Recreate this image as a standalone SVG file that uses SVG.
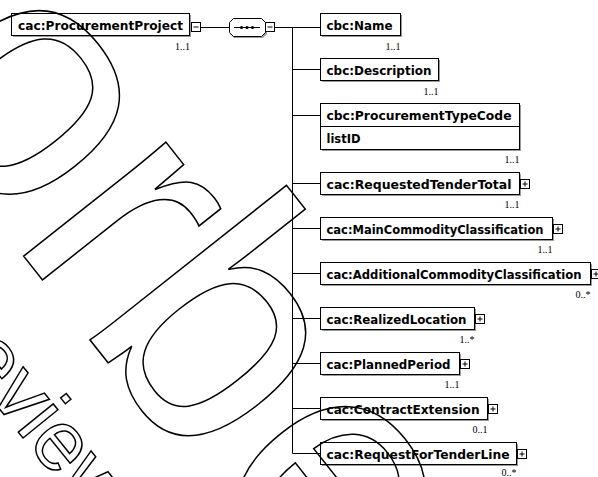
<svg xmlns="http://www.w3.org/2000/svg" width="598" height="477" viewBox="0 0 598 477">
<style>
.box{fill:#fff;stroke:#000;stroke-width:1}
.sh{fill:#9a9a9a}
.lbl{font-family:"DejaVu Sans",Verdana,sans-serif;font-size:12px;font-weight:bold;fill:#000}
.mult{font-family:"Liberation Serif","Times New Roman",serif;font-size:10px;fill:#000;text-anchor:end}
.ln{stroke:#000;stroke-width:1;fill:none}
.tog{fill:#fff;stroke:#000;stroke-width:1}
.wm{font-family:"Liberation Sans",Arial,sans-serif;fill:none;stroke:#000;stroke-width:1.5}
</style>
<defs>
<g id="plus"><rect class="tog" x="0.5" y="0.5" width="9" height="9"/><path class="ln" d="M2.5,5H7.5M5,2.5V7.5"/></g>
<g id="minus"><rect class="tog" x="0.5" y="0.5" width="9" height="9"/><path class="ln" d="M2.5,5H7.5"/></g>
</defs>

<g id="connectors">
<path class="ln" d="M200.5,27.5H229.5M275,27.5H292.5M292.5,27.5V453.5"/>
<path class="ln" d="M292.5,27.5H320.5M292.5,69.5H320.5M292.5,115.5H320.5M292.5,183.5H320.5M292.5,228.5H320.5M292.5,273.5H320.5M292.5,318.5H320.5M292.5,363.5H320.5M292.5,408.5H320.5M292.5,453.5H320.5"/>
</g>

<g id="root">
<rect class="sh" x="13" y="15" width="178" height="22"/>
<rect class="box" x="11.5" y="13.5" width="178" height="22"/>
<text class="lbl" x="18" y="30" textLength="165" lengthAdjust="spacingAndGlyphs">cac:ProcurementProject</text>
<use href="#minus" x="191" y="22"/>
<text class="mult" x="190" y="50">1..1</text>
</g>

<g id="sequence">
<path d="M234,20 H263 L267,24 V34 L263,38 H234 L230,34 V24 Z" fill="#9a9a9a"/>
<path class="box" d="M233.5,18.5 H261.5 L265.5,22.5 V32.5 L261.5,36.5 H233.5 L229.5,32.5 V22.5 Z"/>
<path class="ln" d="M234,27.5H260"/>
<circle cx="241.5" cy="27.5" r="1.6"/>
<circle cx="247" cy="27.5" r="1.6"/>
<circle cx="252.5" cy="27.5" r="1.6"/>
<use href="#minus" x="265" y="22"/>
</g>

<g id="name">
<rect class="sh" x="322" y="15" width="80" height="22"/>
<rect class="box" x="320.5" y="13.5" width="80" height="22"/>
<text class="lbl" x="326.5" y="30" textLength="66" lengthAdjust="spacingAndGlyphs">cbc:Name</text>
<text class="mult" x="400.5" y="49.5">1..1</text>
</g>

<g id="description">
<rect class="sh" x="322" y="60" width="118" height="22"/>
<rect class="box" x="320.5" y="58.5" width="118" height="22"/>
<text class="lbl" x="326.5" y="75" textLength="105" lengthAdjust="spacingAndGlyphs">cbc:Description</text>
<text class="mult" x="438.5" y="94.5">1..1</text>
</g>

<g id="procurementTypeCode">
<rect class="sh" x="322" y="105" width="199" height="46"/>
<rect class="box" x="320.5" y="103.5" width="199" height="46"/>
<path class="ln" d="M320.5,126.5H519.5"/>
<text class="lbl" x="326.5" y="120" textLength="185" lengthAdjust="spacingAndGlyphs">cbc:ProcurementTypeCode</text>
<text class="lbl" x="326.5" y="142.5" textLength="34" lengthAdjust="spacingAndGlyphs">listID</text>
<text class="mult" x="519.5" y="163">1..1</text>
</g>

<g id="requestedTenderTotal">
<rect class="sh" x="322" y="174" width="199" height="22"/>
<rect class="box" x="320.5" y="172.5" width="199" height="22"/>
<text class="lbl" x="326.5" y="189" textLength="185" lengthAdjust="spacingAndGlyphs">cac:RequestedTenderTotal</text>
<use href="#plus" x="520" y="179"/>
<text class="mult" x="519.5" y="208">1..1</text>
</g>

<g id="mainCommodityClassification">
<rect class="sh" x="322" y="219" width="232" height="22"/>
<rect class="box" x="320.5" y="217.5" width="232" height="22"/>
<text class="lbl" x="326.5" y="234" textLength="217" lengthAdjust="spacingAndGlyphs">cac:MainCommodityClassification</text>
<use href="#plus" x="553" y="224"/>
<text class="mult" x="552.5" y="253">1..1</text>
</g>

<g id="additionalCommodityClassification">
<rect class="sh" x="322" y="264" width="270" height="22"/>
<rect class="box" x="320.5" y="262.5" width="270" height="22"/>
<text class="lbl" x="326.5" y="279" textLength="255" lengthAdjust="spacingAndGlyphs">cac:AdditionalCommodityClassification</text>
<use href="#plus" x="591" y="269"/>
<text class="mult" x="590.5" y="298">0..*</text>
</g>

<g id="realizedLocation">
<rect class="sh" x="322" y="309" width="154" height="22"/>
<rect class="box" x="320.5" y="307.5" width="154" height="22"/>
<text class="lbl" x="326.5" y="324" textLength="140" lengthAdjust="spacingAndGlyphs">cac:RealizedLocation</text>
<use href="#plus" x="475" y="314"/>
<text class="mult" x="474.5" y="343">1..*</text>
</g>

<g id="plannedPeriod">
<rect class="sh" x="322" y="354" width="139" height="22"/>
<rect class="box" x="320.5" y="352.5" width="139" height="22"/>
<text class="lbl" x="326.5" y="369" textLength="124" lengthAdjust="spacingAndGlyphs">cac:PlannedPeriod</text>
<use href="#plus" x="460" y="359"/>
<text class="mult" x="459.5" y="388">1..1</text>
</g>

<g id="contractExtension">
<rect class="sh" x="322" y="399" width="167" height="22"/>
<rect class="box" x="320.5" y="397.5" width="167" height="22"/>
<text class="lbl" x="326.5" y="414" textLength="153" lengthAdjust="spacingAndGlyphs">cac:ContractExtension</text>
<use href="#plus" x="488" y="404"/>
<text class="mult" x="487.5" y="433">0..1</text>
</g>

<g id="requestForTenderLine">
<rect class="sh" x="322" y="444" width="196" height="22"/>
<rect class="box" x="320.5" y="442.5" width="196" height="22"/>
<text class="lbl" x="326.5" y="459" textLength="183" lengthAdjust="spacingAndGlyphs">cac:RequestForTenderLine</text>
<use href="#plus" x="517" y="449"/>
<text class="mult" x="516.5" y="475.5">0..*</text>
</g>

<g id="watermark">
<text class="wm" font-size="345" transform="translate(-107,84) rotate(51.6)">o</text>
<text class="wm" font-size="345" transform="translate(8.8,237.4) rotate(51.6)">r</text>
<text class="wm" font-size="345" transform="translate(76.1,322.4) rotate(51.6)">b</text>
<text class="wm" font-size="345" transform="translate(200,479) rotate(51.6)">e</text>
<text class="wm" font-size="85" transform="translate(-41.8,358) rotate(51)">eview</text>
</g>
</svg>
